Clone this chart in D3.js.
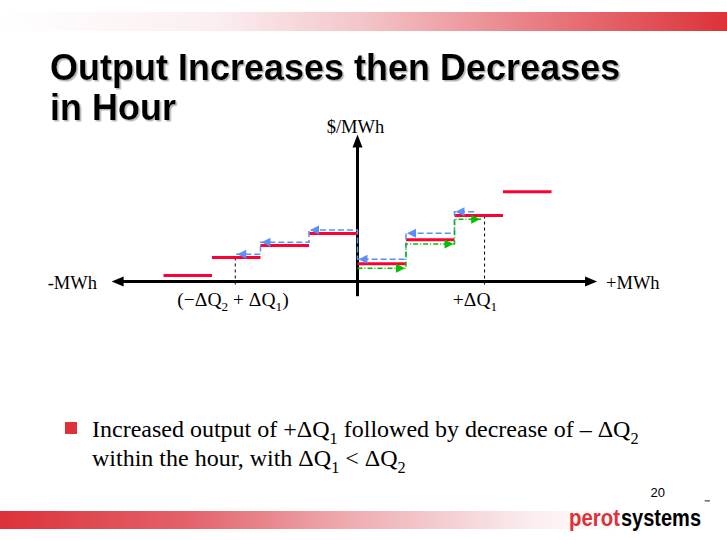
<!DOCTYPE html>
<html><head><meta charset="utf-8">
<script src="https://cdn.jsdelivr.net/npm/d3@7"></script>
<style>html,body{margin:0;padding:0;background:#fff;}svg{display:block;}</style>
</head><body>
<script>
// ---- data ----
const titleLines = ["Output Increases then Decreases", "in Hour"];
const stepEdges = [-4, -3, -2, -1, 0, 1, 2, 3, 4];          // MWh (step units)
const offerPrices = [6.1, 24.5, 36.7, 49, 18, 42.5, 67.3, 91.5]; // $/MWh, one per step
const bluePathX = [-2.5, -2, -1, 0, 1, 2, 2.45];              // decrease (left-shifted) path
const bluePrices = [27.8, 40, 52.6, 22.7, 49.2, 71.2];
const greenPathX = [0, 1, 2, 2.55];                           // increase path
const greenPrices = [13.5, 38.3, 63.5];
const markerX = [-2.52, 2.62];
const markerLabels = ["(−ΔQ2 + ΔQ1)", "+ΔQ1"];
const axisLabels = {y: "$/MWh", xNeg: "-MWh", xPos: "+MWh"};
const bulletLines = ["Increased output of +ΔQ1 followed by decrease of – ΔQ2", "within the hour, with ΔQ1 < ΔQ2"];
const pageNumber = "20";
const logoParts = ["perot", "systems"];

const W = 727, H = 540;
const RED = "#ff0033", BLUE = "#5b8ff5", GREEN = "#00c000", BRAND = "#dc3238";

const svg = d3.select("body").append("svg").attr("width", W).attr("height", H);
const defs = svg.append("defs");

// bands
const gTop = defs.append("linearGradient").attr("id", "gTop").attr("x1", 0).attr("x2", 1).attr("y1", 0).attr("y2", 0);
[[0, "#ffffff"], [0.3, "#fbeef0"], [0.5, "#f3c5c8"], [0.75, "#e87a80"], [1, BRAND]].forEach(s =>
  gTop.append("stop").attr("offset", s[0]).attr("stop-color", s[1]));
const gBot = defs.append("linearGradient").attr("id", "gBot").attr("x1", 0).attr("x2", 1).attr("y1", 0).attr("y2", 0);
[[0, BRAND], [0.3, "#e4626b"], [0.55, "#eeabb0"], [0.85, "#fbeef0"], [1, "#ffffff"]].forEach(s =>
  gBot.append("stop").attr("offset", s[0]).attr("stop-color", s[1]));
svg.append("rect").attr("x", 0).attr("y", 12).attr("width", W).attr("height", 19).attr("fill", "url(#gTop)");
svg.append("rect").attr("x", 0).attr("y", 511).attr("width", 630).attr("height", 18).attr("fill", "url(#gBot)");

// title shadow filter
const f = defs.append("filter").attr("id", "shadow").attr("x", "-5%").attr("y", "-20%").attr("width", "110%").attr("height", "140%");
f.append("feDropShadow").attr("dx", 1.5).attr("dy", 1.5).attr("stdDeviation", 0.3)
  .attr("flood-color", "#a0a0a0").attr("flood-opacity", 0.8);

const titleY = [80, 120];
titleLines.forEach((t, i) => {
  svg.append("text").attr("x", 50).attr("y", titleY[i]).text(t)
    .attr("font-family", "Liberation Sans, Arial, sans-serif").attr("font-weight", "bold")
    .attr("font-size", 36).attr("fill", "#000").attr("filter", "url(#shadow)");
});

// scales
const x = d3.scaleLinear().domain([-5, 5]).range([115, 600]);
const y = d3.scaleLinear().domain([0, 150]).range([281.5, 134.5]);

// axes
const axG = svg.append("g");
axG.append("line").attr("x1", x(-4.95)).attr("x2", x(4.82)).attr("y1", y(0)).attr("y2", y(0))
  .attr("stroke", "#000").attr("stroke-width", 3);
axG.append("line").attr("x1", x(0)).attr("x2", x(0)).attr("y1", y(-15)).attr("y2", y(146))
  .attr("stroke", "#000").attr("stroke-width", 3);
const ah = (pts) => axG.append("path").attr("d", "M" + pts.map(p => p.join(",")).join("L") + "Z").attr("fill", "#000");
ah([[x(-5.07), y(0)], [x(-5.07) + 12, y(0) - 5], [x(-5.07) + 12, y(0) + 5]]);
ah([[x(4.94), y(0)], [x(4.94) - 12, y(0) - 5], [x(4.94) - 12, y(0) + 5]]);
ah([[x(0), y(150)], [x(0) - 5, y(150) + 13], [x(0) + 5, y(150) + 13]]);

const serif = "Liberation Serif, Times New Roman, serif";
svg.append("text").attr("x", x(0) - 2).attr("y", 133).attr("text-anchor", "middle")
  .attr("font-family", serif).attr("font-size", 18.5).text(axisLabels.y);
svg.append("text").attr("x", 97).attr("y", 289).attr("text-anchor", "end")
  .attr("font-family", serif).attr("font-size", 18.5).text(axisLabels.xNeg);
svg.append("text").attr("x", 606).attr("y", 289).attr("text-anchor", "start")
  .attr("font-family", serif).attr("font-size", 18.5).text(axisLabels.xPos);

// marker dashed lines
const markerTops = [offerPrices[1], offerPrices[6]];
markerX.forEach((m, i) => {
  svg.append("line").attr("x1", x(m)).attr("x2", x(m)).attr("y1", y(markerTops[i])).attr("y2", y(-6))
    .attr("stroke", "#000").attr("stroke-width", 1).attr("stroke-dasharray", "3,3");
});

// text with subscripts after Q
function richText(parent, xx, yy, str, size, anchor) {
  const t = parent.append("text").attr("x", xx).attr("y", yy).attr("text-anchor", anchor || "start")
    .attr("font-family", serif).attr("font-size", size);
  const parts = str.split(/(Q\d)/).filter(p => p.length);
  let pending = 0;
  parts.forEach(p => {
    if (/^Q\d$/.test(p)) {
      const q = t.append("tspan").text("Q");
      if (pending) { q.attr("dy", pending); pending = 0; }
      t.append("tspan").attr("font-size", size * 0.68).attr("dy", size * 0.28).text(p[1]);
      pending = -size * 0.28;
    } else {
      const s = t.append("tspan").text(p);
      if (pending) { s.attr("dy", pending); pending = 0; }
    }
  });
  return t;
}
richText(svg, 233, 306, markerLabels[0], 19.5, "middle");
richText(svg, 475, 306, markerLabels[1], 19.5, "middle");

// red offer steps
svg.append("g").selectAll("line").data(offerPrices).join("line")
  .attr("x1", (d, i) => x(stepEdges[i])).attr("x2", (d, i) => x(stepEdges[i + 1]))
  .attr("y1", d => y(d)).attr("y2", d => y(d))
  .attr("stroke", RED).attr("stroke-width", 3);

function stepPath(xs, ps) {
  const pts = [];
  ps.forEach((p, i) => { pts.push([x(xs[i]), y(p)]); pts.push([x(xs[i + 1]), y(p)]); });
  return d3.line()(pts);
}
svg.append("path").attr("d", stepPath(bluePathX, bluePrices)).attr("fill", "none")
  .attr("stroke", BLUE).attr("stroke-width", 1.5).attr("stroke-dasharray", "6,3");
svg.append("path").attr("d", stepPath(greenPathX, greenPrices)).attr("fill", "none")
  .attr("stroke", GREEN).attr("stroke-width", 1.5).attr("stroke-dasharray", "5,2,1,2");

bluePrices.forEach((p, i) => {
  const tx = x(bluePathX[i]) + 1, ty = y(p);
  svg.append("path").attr("d", `M${tx},${ty}L${tx + 9},${ty - 4.5}L${tx + 9},${ty + 4.5}Z`).attr("fill", BLUE);
});
greenPrices.forEach((p, i) => {
  const tx = x(greenPathX[i + 1]) - 1, ty = y(p);
  svg.append("path").attr("d", `M${tx},${ty}L${tx - 9},${ty - 4.5}L${tx - 9},${ty + 4.5}Z`).attr("fill", GREEN);
});

// bullet
svg.append("rect").attr("x", 65).attr("y", 422).attr("width", 12).attr("height", 12).attr("fill", BRAND);
richText(svg, 92, 437, bulletLines[0], 24);
richText(svg, 92, 466, bulletLines[1], 24);

// page number
svg.append("text").attr("x", 665).attr("y", 497).attr("text-anchor", "end")
  .attr("font-family", "Liberation Sans Narrow, Liberation Sans, Arial, sans-serif").attr("font-size", 13).text(pageNumber);

// logo
const logoFont = "Liberation Sans Narrow, Liberation Sans, Arial, sans-serif";
svg.append("text").attr("x", 569).attr("y", 526).attr("font-family", logoFont).attr("font-weight", "bold")
  .attr("font-size", 23).attr("fill", BRAND).attr("textLength", 51).attr("lengthAdjust", "spacingAndGlyphs").text(logoParts[0]);
svg.append("text").attr("x", 621).attr("y", 526).attr("font-family", logoFont).attr("font-weight", "bold")
  .attr("font-size", 23).attr("fill", "#000").attr("textLength", 80).attr("lengthAdjust", "spacingAndGlyphs").text(logoParts[1]);
svg.append("text").attr("x", 704).attr("y", 503.5).attr("font-family", "Liberation Sans, Arial, sans-serif")
  .attr("font-size", 6).attr("font-weight", "bold").text("™");
</script>
</body></html>
